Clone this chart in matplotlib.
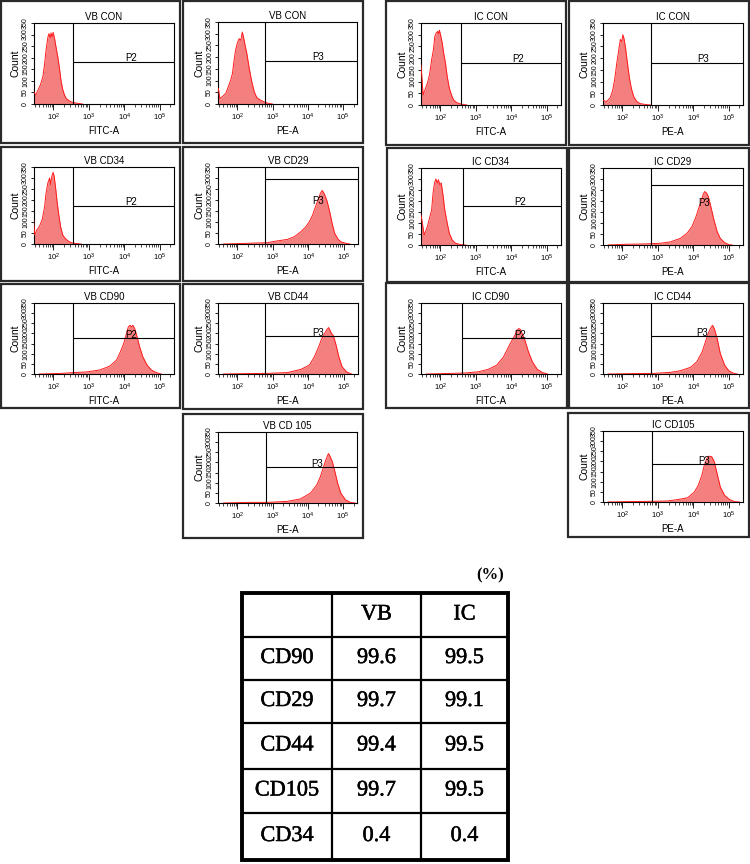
import numpy as np
import matplotlib.pyplot as plt
import matplotlib.patheffects as pe
from matplotlib.patches import Rectangle
from matplotlib.ticker import FixedLocator, LogLocator, NullFormatter

plt.rcParams['font.family'] = ['Liberation Sans', 'DejaVu Sans']

# histograms: log10(fluorescence) vs event count
vb_con_fitc_x = [1.44, 1.50, 1.56, 1.63, 1.70, 1.75, 1.79, 1.84, 1.87, 1.91, 1.93, 1.96, 1.99, 2.03, 2.07, 2.12, 2.17, 2.21, 2.26, 2.31, 2.36, 2.45, 2.54, 2.68, 2.82]
vb_con_fitc_y = [53, 39, 60, 82, 118, 175, 232, 287, 304, 287, 307, 290, 310, 283, 247, 204, 153, 103, 63, 39, 24, 13, 7, 3, 0]

vb_con_pe_x = [1.46, 1.50, 1.57, 1.67, 1.76, 1.81, 1.86, 1.90, 1.95, 2.00, 2.05, 2.10, 2.14, 2.17, 2.21, 2.27, 2.33, 2.40, 2.48, 2.55, 2.65, 2.76, 2.88, 3.00]
vb_con_pe_y = [67, 24, 31, 45, 81, 102, 130, 180, 230, 261, 279, 272, 307, 289, 258, 215, 159, 102, 52, 28, 17, 9, 3, 0]

ic_con_fitc_x = [1.45, 1.51, 1.56, 1.63, 1.69, 1.75, 1.80, 1.84, 1.88, 1.92, 1.94, 1.97, 2.01, 2.05, 2.09, 2.14, 2.19, 2.25, 2.31, 2.37, 2.46, 2.58, 2.74]
ic_con_fitc_y = [170, 43, 64, 93, 129, 193, 236, 293, 307, 314, 304, 319, 293, 264, 221, 179, 121, 71, 43, 21, 10, 4, 0]

ic_con_pe_x = [1.45, 1.55, 1.65, 1.72, 1.78, 1.84, 1.90, 1.94, 1.98, 2.01, 2.04, 2.08, 2.13, 2.19, 2.25, 2.32, 2.40, 2.50, 2.65, 2.80]
ic_con_pe_y = [20, 15, 30, 60, 110, 180, 240, 280, 270, 300, 285, 250, 190, 120, 70, 35, 15, 6, 2, 0]

vb_cd34_x = [1.44, 1.47, 1.53, 1.60, 1.68, 1.75, 1.79, 1.84, 1.89, 1.92, 1.95, 1.99, 2.02, 2.06, 2.10, 2.15, 2.20, 2.26, 2.33, 2.41, 2.50, 2.64, 2.78]
vb_cd34_y = [110, 41, 64, 79, 110, 170, 231, 277, 300, 269, 307, 326, 307, 254, 193, 132, 79, 41, 26, 14, 6, 2, 0]

vb_cd29_x = [1.60, 2.27, 2.84, 3.12, 3.41, 3.60, 3.79, 3.93, 4.03, 4.12, 4.22, 4.29, 4.34, 4.39, 4.43, 4.48, 4.53, 4.60, 4.67, 4.74, 4.84, 4.93, 5.08, 5.17]
vb_cd29_y = [0, 3, 6, 14, 21, 33, 56, 79, 102, 132, 178, 208, 231, 243, 234, 216, 193, 148, 94, 49, 21, 9, 2, 0]

ic_cd34_x = [1.45, 1.54, 1.58, 1.63, 1.69, 1.75, 1.79, 1.83, 1.87, 1.91, 1.94, 1.98, 2.02, 2.07, 2.12, 2.19, 2.25, 2.33, 2.42, 2.57, 2.71]
ic_cd34_y = [137, 46, 61, 84, 122, 160, 236, 282, 300, 282, 297, 274, 282, 228, 160, 99, 53, 23, 8, 2, 0]

ic_cd29_x = [1.60, 2.03, 2.69, 3.07, 3.35, 3.63, 3.82, 3.96, 4.06, 4.15, 4.23, 4.27, 4.32, 4.37, 4.42, 4.48, 4.58, 4.67, 4.76, 4.88, 5.00, 5.09]
ic_cd29_y = [0, 3, 5, 8, 14, 30, 53, 84, 122, 167, 205, 228, 243, 236, 221, 183, 114, 61, 30, 11, 2, 0]

vb_cd90_x = [1.60, 2.23, 2.56, 2.93, 3.31, 3.59, 3.78, 3.89, 3.98, 4.06, 4.11, 4.16, 4.20, 4.24, 4.29, 4.36, 4.43, 4.52, 4.64, 4.76, 4.90, 5.04]
vb_cd90_y = [0, 3, 7, 10, 20, 39, 69, 110, 150, 200, 232, 240, 232, 240, 224, 183, 134, 85, 44, 20, 7, 0]

vb_cd44_x = [1.60, 2.27, 2.84, 3.41, 3.79, 4.03, 4.17, 4.29, 4.38, 4.46, 4.52, 4.57, 4.61, 4.65, 4.70, 4.77, 4.86, 4.95, 5.08, 5.22]
vb_cd44_y = [0, 2, 3, 7, 23, 44, 85, 134, 175, 200, 219, 229, 216, 200, 191, 150, 85, 36, 10, 0]

ic_cd90_x = [1.60, 2.30, 2.69, 3.07, 3.35, 3.59, 3.78, 3.92, 4.02, 4.10, 4.15, 4.21, 4.26, 4.30, 4.38, 4.48, 4.59, 4.73, 4.88, 5.02]
ic_cd90_y = [0, 3, 5, 11, 23, 44, 85, 134, 167, 191, 216, 224, 219, 200, 167, 110, 61, 23, 7, 0]

ic_cd44_x = [1.60, 2.31, 2.88, 3.35, 3.63, 3.92, 4.10, 4.25, 4.34, 4.42, 4.48, 4.54, 4.59, 4.67, 4.76, 4.88, 5.00, 5.14, 5.24]
ic_cd44_y = [0, 2, 3, 8, 16, 33, 61, 110, 159, 200, 224, 240, 224, 175, 101, 44, 16, 3, 0]

vb_cd105_x = [1.60, 2.28, 2.85, 3.42, 3.79, 4.08, 4.26, 4.36, 4.45, 4.53, 4.59, 4.64, 4.70, 4.76, 4.85, 4.94, 5.07, 5.21, 5.35]
vb_cd105_y = [0, 3, 3, 8, 20, 49, 90, 130, 179, 220, 244, 228, 203, 163, 98, 49, 16, 3, 0]

ic_cd105_x = [1.60, 2.14, 2.71, 3.27, 3.56, 3.84, 4.03, 4.14, 4.24, 4.31, 4.38, 4.44, 4.52, 4.59, 4.67, 4.76, 4.88, 5.02, 5.16, 5.30]
ic_cd105_y = [0, 2, 3, 5, 12, 21, 50, 83, 132, 182, 215, 226, 223, 198, 140, 74, 33, 12, 2, 0]

titles = ['VB CON', 'VB CON', 'IC CON', 'IC CON', 'VB CD34', 'VB CD29', 'IC CD34', 'IC CD29',
          'VB CD90', 'VB CD44', 'IC CD90', 'IC CD44', 'VB CD 105', 'IC CD105']
channels = ['FITC-A', 'PE-A', 'FITC-A', 'PE-A', 'FITC-A', 'PE-A', 'FITC-A', 'PE-A',
            'FITC-A', 'PE-A', 'FITC-A', 'PE-A', 'PE-A', 'PE-A']
gate_names = ['P2', 'P3', 'P2', 'P3', 'P2', 'P3', 'P2', 'P3', 'P2', 'P3', 'P2', 'P3', 'P3', 'P3']
hist_x = [vb_con_fitc_x, vb_con_pe_x, ic_con_fitc_x, ic_con_pe_x, vb_cd34_x, vb_cd29_x, ic_cd34_x, ic_cd29_x,
          vb_cd90_x, vb_cd44_x, ic_cd90_x, ic_cd44_x, vb_cd105_x, ic_cd105_x]
hist_y = [vb_con_fitc_y, vb_con_pe_y, ic_con_fitc_y, ic_con_pe_y, vb_cd34_y, vb_cd29_y, ic_cd34_y, ic_cd29_y,
          vb_cd90_y, vb_cd44_y, ic_cd90_y, ic_cd44_y, vb_cd105_y, ic_cd105_y]
# gate start (log10) and marker level (fraction of y range)
gate_log = [2.54, 2.79, 2.58, 2.80, 2.55, 2.79, 2.63, 2.81, 2.56, 2.79, 2.61, 2.81, 2.80, 2.82]
gate_level = [0.52, 0.53, 0.51, 0.51, 0.50, 0.85, 0.51, 0.78, 0.51, 0.53, 0.51, 0.53, 0.51, 0.53]
label_log = [4.18, 4.29, 4.18, 4.27, 4.20, 4.27, 4.26, 4.29, 4.20, 4.27, 4.26, 4.25, 4.26, 4.31]
label_level = [0.565, 0.575, 0.555, 0.555, 0.545, 0.56, 0.555, 0.55, 0.555, 0.575, 0.555, 0.575, 0.555, 0.575]
count_ticks = [0, 50, 100, 150, 200, 250, 300, 350]

markers = ['CD90', 'CD29', 'CD44', 'CD105', 'CD34']
vb_pct = [99.6, 99.7, 99.4, 99.7, 0.4]
ic_pct = [99.5, 99.1, 99.5, 99.5, 0.4]

# layout in pixels: outer frame and plot area (left, top, right, bottom)
frames = [(1, 1, 180, 143), (183, 1, 363, 143), (386, 1, 566, 145), (569, 1, 749, 145),
          (1, 147, 180, 281), (183, 147, 363, 281), (387, 148, 567, 282), (569, 148, 749, 282),
          (1, 284, 180, 408), (183, 284, 363, 409), (386, 283, 567, 408), (569, 283, 749, 408),
          (183, 414, 363, 538), (568, 413, 749, 537)]
plots = [(34, 23, 174, 104), (218, 22, 357, 104), (421, 23, 561, 105), (603, 23, 743, 105),
         (34, 167, 174, 244), (218, 167, 358, 244), (421, 168, 561, 245), (603, 168, 743, 245),
         (34, 303, 174, 374), (218, 303, 358, 374), (421, 303, 561, 374), (603, 303, 743, 374),
         (218, 432, 357, 503), (603, 431, 743, 502)]

W, H = 750, 864
XLO, XHI = 1.45, 5.40
fig = plt.figure(figsize=(W / 100, H / 100), dpi=100)

bg = fig.add_axes([0, 0, 1, 1])
bg.set_xlim(0, W)
bg.set_ylim(H, 0)
bg.axis('off')

for (l, t, r, b) in frames:
    bg.add_patch(Rectangle((l, t), r - l, b - t, fill=False, ec='#2a2a2a', lw=1.6))

for i in range(len(titles)):
    l, t, r, b = plots[i]
    ax = fig.add_axes([l / W, 1 - b / H, (r - l) / W, (b - t) / H])
    ax.set_xscale('log')
    ax.set_xlim(10 ** XLO, 10 ** XHI)
    ax.set_ylim(0, 350)
    xs = 10 ** np.array(hist_x[i])
    ax.fill_between(xs, hist_y[i], color='#f47f7f', lw=0, zorder=2)
    ax.plot(xs, hist_y[i], color='#ff1a1a', lw=0.7, zorder=3)
    g = 10 ** gate_log[i]
    ax.axvline(g, color='k', lw=0.8, zorder=4)
    ax.hlines(gate_level[i] * 350, g, 10 ** XHI, color='k', lw=0.8, zorder=4)
    ax.text(10 ** label_log[i], label_level[i] * 350, gate_names[i], ha='center', va='center',
            fontsize=7, zorder=5)
    ax.set_title(titles[i], fontsize=7, pad=2)
    ax.set_xlabel(channels[i], fontsize=7, labelpad=2)
    ax.set_ylabel('Count', fontsize=7.5, labelpad=1)
    ax.yaxis.set_major_locator(FixedLocator(count_ticks))
    ax.tick_params(axis='y', labelsize=5, length=2.5, width=0.6, pad=1, labelrotation=90)
    plt.setp(ax.get_yticklabels(), va='center')
    ax.xaxis.set_major_locator(FixedLocator([1e2, 1e3, 1e4, 1e5]))
    ax.xaxis.set_minor_locator(LogLocator(base=10, subs=(2, 3, 4, 5, 6, 7, 8, 9), numticks=20))
    ax.xaxis.set_minor_formatter(NullFormatter())
    ax.tick_params(axis='x', which='major', labelsize=5.5, length=4, width=0.6, pad=1.5)
    ax.tick_params(axis='x', which='minor', length=2.5, width=0.5)
    for s in ax.spines.values():
        s.set_linewidth(0.8)

# percentage table
col_edges = [242, 332, 421, 508]
row_edges = [593, 637, 680, 723, 769, 813, 860]
serif = ['Liberation Serif', 'DejaVu Serif']
heavy = [pe.withStroke(linewidth=0.35, foreground='black')]
bg.add_patch(Rectangle((col_edges[0], row_edges[0]), col_edges[-1] - col_edges[0],
                       row_edges[-1] - row_edges[0], fill=False, ec='black', lw=2.8))
for x in col_edges[1:-1]:
    bg.plot([x, x], [row_edges[0], row_edges[-1]], color='black', lw=1.6)
for y in row_edges[1:-1]:
    bg.plot([col_edges[0], col_edges[-1]], [y, y], color='black', lw=1.6)

header = ['', 'VB', 'IC']
cells = [header] + [[m, f'{v:.1f}', f'{c:.1f}'] for m, v, c in zip(markers, vb_pct, ic_pct)]
for ri, row in enumerate(cells):
    yc = (row_edges[ri] + row_edges[ri + 1]) / 2
    for ci, txt in enumerate(row):
        xc = (col_edges[ci] + col_edges[ci + 1]) / 2
        bg.text(xc, yc, txt, ha='center', va='center', fontsize=16, family=serif, path_effects=heavy)
bg.text(490, 575, '(%)', ha='center', va='center', fontsize=12, fontweight='bold', family=serif)

fig.savefig('out.png', dpi=100)
